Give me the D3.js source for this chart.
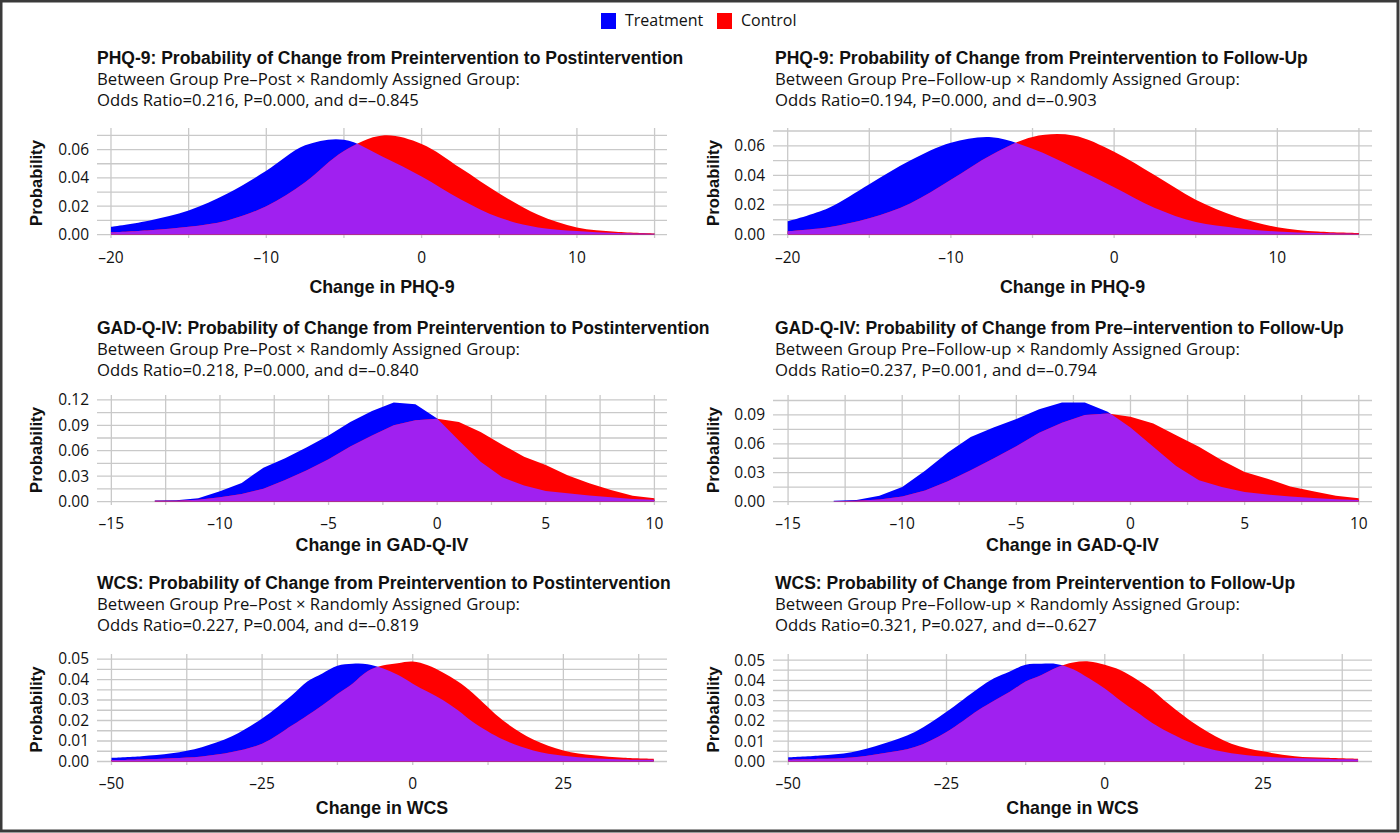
<!DOCTYPE html>
<html>
<head>
<meta charset="utf-8">
<script src="https://cdn.jsdelivr.net/npm/d3@7"></script>
<style>
  body { margin: 0; background: #fff; }
  svg { display: block; }
</style>
</head>
<body>
<svg width="1400" height="833"></svg>
<script>
// ---- data ----
const phqX = [-20, -17.5, -15, -12.5, -10, -7.5, -5, -2.5, 0, 2.5, 5, 7.5, 10, 12.5, 15];
const phqPostTreat = [0.0055, 0.010, 0.017, 0.029, 0.045, 0.063, 0.067, 0.055, 0.041, 0.025, 0.012, 0.005, 0.0025, 0.001, 0.0005];
const phqPostCtrl  = [0.0015, 0.003, 0.0055, 0.010, 0.020, 0.037, 0.059, 0.070, 0.064, 0.047, 0.029, 0.014, 0.005, 0.002, 0.0008];
const phqFuTreat   = [0.009, 0.018, 0.034, 0.050, 0.062, 0.0658, 0.058, 0.0455, 0.032, 0.018, 0.0085, 0.0045, 0.002, 0.001, 0.0005];
const phqFuCtrl    = [0.0023, 0.005, 0.011, 0.021, 0.037, 0.054, 0.066, 0.067, 0.056, 0.040, 0.0235, 0.012, 0.005, 0.002, 0.001];

const gadX = [-13, -12, -11, -10, -9, -8, -7, -6, -5, -4, -3, -2, -1, 0, 1, 2, 3, 4, 5, 6, 7, 8, 9, 10];
const gadPostTreat = [0.0012, 0.0015, 0.004, 0.012, 0.022, 0.040, 0.051, 0.064, 0.078, 0.094, 0.107, 0.117, 0.115, 0.098, 0.072, 0.047, 0.0286, 0.019, 0.0125, 0.0098, 0.007, 0.005, 0.003, 0.002];
const gadPostCtrl  = [0.0008, 0.001, 0.002, 0.005, 0.009, 0.015, 0.0255, 0.037, 0.050, 0.065, 0.078, 0.090, 0.096, 0.0977, 0.094, 0.082, 0.067, 0.053, 0.043, 0.031, 0.0215, 0.0137, 0.0067, 0.004];
const gadFuTreat   = [0.0007, 0.0017, 0.006, 0.015, 0.032, 0.051, 0.067, 0.077, 0.0857, 0.096, 0.103, 0.103, 0.0934, 0.077, 0.057, 0.037, 0.022, 0.015, 0.0098, 0.0073, 0.0052, 0.0038, 0.0024, 0.0017];
const gadFuCtrl    = [0.0003, 0.0007, 0.002, 0.0052, 0.0115, 0.021, 0.0324, 0.0446, 0.0575, 0.0714, 0.082, 0.090, 0.0916, 0.088, 0.081, 0.069, 0.057, 0.043, 0.0307, 0.0237, 0.0157, 0.0108, 0.006, 0.0035];

const wcsX = [-50, -45, -40, -35, -30, -25, -20, -17.5, -15, -12.5, -10, -7.5, -5, -2.5, 0, 2.5, 5, 7.5, 10, 15, 20, 25, 30, 35, 40];
const wcsPostTreat = [0.0018, 0.0026, 0.004, 0.007, 0.0123, 0.021, 0.0325, 0.039, 0.043, 0.0467, 0.0477, 0.0475, 0.0455, 0.0423, 0.038, 0.034, 0.030, 0.025, 0.0193, 0.0107, 0.0054, 0.0028, 0.0016, 0.001, 0.0008];
const wcsPostCtrl  = [0.0007, 0.001, 0.0016, 0.0025, 0.0046, 0.0087, 0.0177, 0.0225, 0.0275, 0.033, 0.038, 0.044, 0.0468, 0.048, 0.0488, 0.047, 0.0434, 0.039, 0.0333, 0.020, 0.0107, 0.0054, 0.003, 0.0018, 0.0013];
const wcsFuTreat   = [0.0021, 0.003, 0.0046, 0.0088, 0.0146, 0.0245, 0.036, 0.041, 0.0444, 0.0477, 0.0482, 0.048, 0.0455, 0.041, 0.036, 0.030, 0.0245, 0.019, 0.0146, 0.0076, 0.0041, 0.0025, 0.0017, 0.0012, 0.001];
const wcsFuCtrl    = [0.0008, 0.0013, 0.002, 0.0041, 0.0071, 0.0146, 0.0253, 0.030, 0.0344, 0.0394, 0.0427, 0.0465, 0.0488, 0.0493, 0.0477, 0.045, 0.0406, 0.0353, 0.0286, 0.017, 0.0088, 0.005, 0.0026, 0.0018, 0.0013];

// tick labels and grid steps
const phqTicks = [-20, -10, 0, 10];
const phqGrid = [-20, -15, -10, -5, 0, 5, 10, 15];
const gadTicks = [-15, -10, -5, 0, 5, 10];
const gadGrid = [-15, -12.5, -10, -7.5, -5, -2.5, 0, 2.5, 5, 7.5, 10];
const wcsTicks = [-50, -25, 0, 25];
const wcsGrid = [-50, -37.5, -25, -12.5, 0, 12.5, 25, 37.5];

const yTicksPhq = [0, 0.02, 0.04, 0.06];
const yGridPhq = [0, 0.01, 0.02, 0.03, 0.04, 0.05, 0.06, 0.07];
const yTicksGad = [0, 0.03, 0.06, 0.09, 0.12];
const yGridGadPost = [0, 0.015, 0.03, 0.045, 0.06, 0.075, 0.09, 0.105, 0.12];
const yTicksGadFu = [0, 0.03, 0.06, 0.09];
const yGridGadFu = [0, 0.015, 0.03, 0.045, 0.06, 0.075, 0.09, 0.105];
const yTicksWcs = [0, 0.01, 0.02, 0.03, 0.04, 0.05];
const yGridWcs = [0, 0.005, 0.01, 0.015, 0.02, 0.025, 0.03, 0.035, 0.04, 0.045, 0.05];

const seriesNames = ['Treatment', 'Control'];
const seriesColors = ['#0000ff', '#ff0000'];
const overlapColor = '#a020f0';

const smooth = d3.curveCatmullRom.alpha(0.5);

const panels = [
  { row: 0, col: 0, x: phqX, treat: phqPostTreat, ctrl: phqPostCtrl,
    title: 'PHQ-9: Probability of Change from Preintervention to Postintervention',
    sub1: 'Between Group Pre\u2013Post \u00d7 Randomly Assigned Group:',
    sub2: 'Odds Ratio=0.216, P=0.000, and d=\u20130.845',
    xlab: 'Change in PHQ-9', xDomain: [-20.9, 15.8], xTicks: phqTicks, xGrid: phqGrid,
    yTicks: yTicksPhq, yGrid: yGridPhq, curve: smooth },
  { row: 0, col: 1, x: phqX, treat: phqFuTreat, ctrl: phqFuCtrl,
    title: 'PHQ-9: Probability of Change from Preintervention to Follow-Up',
    sub1: 'Between Group Pre\u2013Follow-up \u00d7 Randomly Assigned Group:',
    sub2: 'Odds Ratio=0.194, P=0.000, and d=\u20130.903',
    xlab: 'Change in PHQ-9', xDomain: [-20.9, 15.8], xTicks: phqTicks, xGrid: phqGrid,
    yTicks: yTicksPhq, yGrid: yGridPhq, curve: smooth },
  { row: 1, col: 0, x: gadX, treat: gadPostTreat, ctrl: gadPostCtrl,
    title: 'GAD-Q-IV: Probability of Change from Preintervention to Postintervention',
    sub1: 'Between Group Pre\u2013Post \u00d7 Randomly Assigned Group:',
    sub2: 'Odds Ratio=0.218, P=0.000, and d=\u20130.840',
    xlab: 'Change in GAD-Q-IV', xDomain: [-15.66, 10.58], xTicks: gadTicks, xGrid: gadGrid,
    yTicks: yTicksGad, yGrid: yGridGadPost, curve: d3.curveLinear },
  { row: 1, col: 1, x: gadX, treat: gadFuTreat, ctrl: gadFuCtrl,
    title: 'GAD-Q-IV: Probability of Change from Pre\u2013intervention to Follow-Up',
    sub1: 'Between Group Pre\u2013Follow-up \u00d7 Randomly Assigned Group:',
    sub2: 'Odds Ratio=0.237, P=0.001, and d=\u20130.794',
    xlab: 'Change in GAD-Q-IV', xDomain: [-15.66, 10.58], xTicks: gadTicks, xGrid: gadGrid,
    yTicks: yTicksGadFu, yGrid: yGridGadFu, curve: d3.curveLinear },
  { row: 2, col: 0, x: wcsX, treat: wcsPostTreat, ctrl: wcsPostCtrl,
    title: 'WCS: Probability of Change from Preintervention to Postintervention',
    sub1: 'Between Group Pre\u2013Post \u00d7 Randomly Assigned Group:',
    sub2: 'Odds Ratio=0.227, P=0.004, and d=\u20130.819',
    xlab: 'Change in WCS', xDomain: [-52.4, 42.2], xTicks: wcsTicks, xGrid: wcsGrid,
    yTicks: yTicksWcs, yGrid: yGridWcs, curve: smooth },
  { row: 2, col: 1, x: wcsX, treat: wcsFuTreat, ctrl: wcsFuCtrl,
    title: 'WCS: Probability of Change from Preintervention to Follow-Up',
    sub1: 'Between Group Pre\u2013Follow-up \u00d7 Randomly Assigned Group:',
    sub2: 'Odds Ratio=0.321, P=0.027, and d=\u20130.627',
    xlab: 'Change in WCS', xDomain: [-52.4, 42.2], xTicks: wcsTicks, xGrid: wcsGrid,
    yTicks: yTicksWcs, yGrid: yGridWcs, curve: smooth }
];

// ---- layout ----
const cols = [
  { x0: 97, x1: 667, titleX: 97, ylabX: 36, tickX: 89 },
  { x0: 773, x1: 1372, titleX: 775, ylabX: 713, tickX: 765 }
];
const rows = [
  { y0: 128, y1: 238, title: 64, xTick: 263, xTitle: 293 },
  { y0: 395, y1: 505, title: 334, xTick: 529, xTitle: 551 },
  { y0: 654, y1: 765, title: 589, xTick: 789, xTitle: 814 }
];

const FONT = "'Open Sans', 'Noto Sans', sans-serif";
const BOLD_FONT = "'Liberation Sans', Arial, sans-serif";

const svg = d3.select('svg');
const fmtX = d => (d < 0 ? '\u2013' : '') + Math.abs(d);

// frame
svg.append('rect').attr('x', 1).attr('y', 1).attr('width', 1397).attr('height', 830)
  .attr('fill', '#fff').attr('stroke', '#3a3a3a').attr('stroke-width', 3);

// legend
const legend = svg.append('g').attr('transform', 'translate(601,13)');
const legItems = legend.selectAll('g').data(seriesNames).enter().append('g')
  .attr('transform', (d, i) => `translate(${i * 116},0)`);
legItems.append('rect').attr('width', 15).attr('height', 16)
  .attr('fill', (d, i) => seriesColors[i]);
legItems.append('text').attr('x', 24).attr('y', 13)
  .style('font-family', FONT).style('font-size', '16px').attr('fill', '#111')
  .text(d => d);

panels.forEach((p, pi) => {
  const c = cols[p.col], r = rows[p.row];
  const g = svg.append('g');
  const ymax = d3.max(p.treat.concat(p.ctrl));
  const x = d3.scaleLinear().domain(p.xDomain).range([c.x0, c.x1]);
  const y = d3.scaleLinear().domain([-0.035 * ymax, 1.075 * ymax]).range([r.y1, r.y0]);

  // titles
  g.append('text').attr('x', c.titleX).attr('y', r.title)
    .style('font-family', BOLD_FONT).style('font-weight', 'bold').style('font-size', '17.5px')
    .attr('fill', '#111').text(p.title);
  [p.sub1, p.sub2].forEach((s, k) => {
    g.append('text').attr('x', c.titleX).attr('y', r.title + 21 * (k + 1))
      .style('font-family', FONT).style('font-size', '16.7px').attr('fill', '#111').text(s);
  });

  // grid
  g.append('g').selectAll('line').data(p.yGrid).enter().append('line')
    .attr('x1', c.x0).attr('x2', c.x1).attr('y1', d => y(d)).attr('y2', d => y(d))
    .attr('stroke', '#c9c9c9').attr('stroke-width', 1.3);
  g.append('g').selectAll('line').data(p.xGrid).enter().append('line')
    .attr('x1', d => x(d)).attr('x2', d => x(d)).attr('y1', r.y0).attr('y2', r.y1)
    .attr('stroke', '#c9c9c9').attr('stroke-width', 1.3);

  // areas: treatment, control, and their overlap (treatment clipped by control)
  const pts = p.x.map((v, i) => ({ x: v, t: p.treat[i], c: p.ctrl[i] }));
  const areaT = d3.area().curve(p.curve).x(d => x(d.x)).y0(y(0)).y1(d => y(d.t));
  const areaC = d3.area().curve(p.curve).x(d => x(d.x)).y0(y(0)).y1(d => y(d.c));
  const clipId = 'clip' + pi;
  svg.append('clipPath').attr('id', clipId).append('path').attr('d', areaC(pts));
  g.append('path').attr('d', areaT(pts)).attr('fill', seriesColors[0]);
  g.append('path').attr('d', areaC(pts)).attr('fill', seriesColors[1]);
  g.append('path').attr('d', areaT(pts)).attr('fill', overlapColor).attr('clip-path', `url(#${clipId})`);

  // y tick labels
  g.append('g').selectAll('text').data(p.yTicks).enter().append('text')
    .attr('x', c.tickX).attr('y', d => y(d)).attr('dy', '0.35em').attr('text-anchor', 'end')
    .style('font-family', FONT).style('font-size', '15.5px').attr('fill', '#111')
    .text(d => d3.format('.2f')(d));
  // x tick labels
  g.append('g').selectAll('text').data(p.xTicks).enter().append('text')
    .attr('x', d => x(d)).attr('y', r.xTick).attr('text-anchor', 'middle')
    .style('font-family', FONT).style('font-size', '15.5px').attr('fill', '#111')
    .text(fmtX);
  // axis titles
  g.append('text').attr('x', (c.x0 + c.x1) / 2).attr('y', r.xTitle).attr('text-anchor', 'middle')
    .style('font-family', BOLD_FONT).style('font-weight', 'bold').style('font-size', '17.8px')
    .attr('fill', '#111').text(p.xlab);
  g.append('text').attr('transform', `translate(${c.ylabX},${(r.y0 + r.y1) / 2}) rotate(-90)`)
    .attr('dy', '0.35em').attr('text-anchor', 'middle')
    .style('font-family', BOLD_FONT).style('font-weight', 'bold').style('font-size', '16.6px')
    .attr('fill', '#111').text('Probability');
});
</script>
</body>
</html>
